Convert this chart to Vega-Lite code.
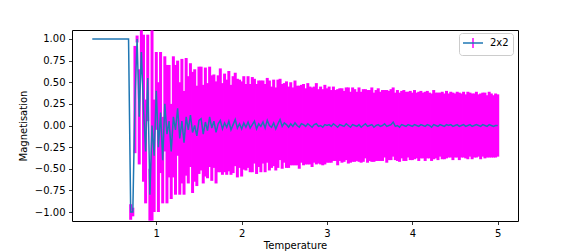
{
  "$schema": "https://vega.github.io/schema/vega-lite/v6.json",
  "width": 446,
  "height": 191,
  "autosize": {"type": "none"},
  "padding": {"left": 72, "top": 30, "right": 58, "bottom": 31},
  "background": "white",
  "config": {
    "view": {"stroke": "black", "strokeWidth": 1},
    "font": "DejaVu Sans",
    "axis": {
      "grid": false, "domain": false, "tickColor": "black", "tickSize": 3.5, "tickWidth": 0.8,
      "labelFont": "DejaVu Sans", "labelFontSize": 10, "labelColor": "black", "labelPadding": 3.5,
      "titleFont": "DejaVu Sans", "titleFontSize": 10, "titleFontWeight": "normal", "titleColor": "black"
    }
  },
  "data": {"values": [
    {"T":0.25,"M":1,"e":0},{"T":0.275,"M":1,"e":0},{"T":0.3,"M":1,"e":0},{"T":0.325,"M":1,"e":0},{"T":0.35,"M":1,"e":0},{"T":0.375,"M":1,"e":0},{"T":0.4,"M":1,"e":0},{"T":0.425,"M":1,"e":0},{"T":0.45,"M":1,"e":0},{"T":0.475,"M":1,"e":0},{"T":0.5,"M":1,"e":0},{"T":0.525,"M":1,"e":0},{"T":0.55,"M":1,"e":0},{"T":0.575,"M":1,"e":0},{"T":0.6,"M":1,"e":0},{"T":0.625,"M":1,"e":0},{"T":0.65,"M":1,"e":0},{"T":0.675,"M":1,"e":0},
    {"T":0.7,"M":-1,"e":0.09},{"T":0.725,"M":-1,"e":0.05},{"T":0.75,"M":0.3,"e":0.62},{"T":0.775,"M":1,"e":0.04},{"T":0.8,"M":0.1,"e":0.55},{"T":0.825,"M":0.85,"e":0.25},{"T":0.85,"M":0.2,"e":0.85},{"T":0.875,"M":-0.3,"e":0.6},{"T":0.9,"M":0.55,"e":0.5},{"T":0.925,"M":-0.8,"e":0.3},{"T":0.95,"M":0,"e":1.1},{"T":0.975,"M":-0.35,"e":0.65},
    {"T":1.0,"M":0.4,"e":0.45},{"T":1.025,"M":-0.25,"e":0.75},{"T":1.05,"M":0.15,"e":0.7},{"T":1.075,"M":-0.4,"e":0.5},{"T":1.1,"M":0.25,"e":0.55},{"T":1.125,"M":-0.1,"e":0.8},{"T":1.15,"M":0.05,"e":0.65},{"T":1.175,"M":-0.3,"e":0.55},{"T":1.2,"M":0.1,"e":0.7},{"T":1.225,"M":-0.05,"e":0.75},{"T":1.25,"M":0.2,"e":0.55},{"T":1.275,"M":-0.15,"e":0.65},{"T":1.3,"M":0.05,"e":0.72},{"T":1.325,"M":-0.2,"e":0.6},{"T":1.35,"M":0.1,"e":0.68},{"T":1.375,"M":-0.05,"e":0.62},{"T":1.4,"M":0.12,"e":0.6},{"T":1.425,"M":-0.08,"e":0.7},{"T":1.45,"M":0,"e":0.65},{"T":1.475,"M":-0.12,"e":0.58},{"T":1.5,"M":0.06,"e":0.62},
    {"T":1.525,"M":0.08,"e":0.6},{"T":1.55,"M":-0.1,"e":0.57},{"T":1.575,"M":0.04,"e":0.63},{"T":1.6,"M":-0.06,"e":0.55},{"T":1.625,"M":0.1,"e":0.58},{"T":1.65,"M":-0.03,"e":0.61},{"T":1.675,"M":0.05,"e":0.54},{"T":1.7,"M":-0.08,"e":0.59},{"T":1.725,"M":0.02,"e":0.56},{"T":1.75,"M":0.06,"e":0.6},{"T":1.775,"M":-0.04,"e":0.53},{"T":1.8,"M":0.03,"e":0.57},{"T":1.825,"M":-0.02,"e":0.55},{"T":1.85,"M":0.05,"e":0.58},{"T":1.875,"M":-0.05,"e":0.52},{"T":1.9,"M":0.01,"e":0.56},{"T":1.925,"M":0.07,"e":0.54},{"T":1.95,"M":-0.03,"e":0.57},{"T":1.975,"M":0.02,"e":0.51},{"T":2.0,"M":-0.04,"e":0.55},
    {"T":2.025,"M":0.03,"e":0.54},{"T":2.05,"M":-0.02,"e":0.5},{"T":2.075,"M":0.04,"e":0.53},{"T":2.1,"M":-0.03,"e":0.51},{"T":2.125,"M":0.01,"e":0.55},{"T":2.15,"M":0.05,"e":0.49},{"T":2.175,"M":-0.04,"e":0.52},{"T":2.2,"M":0.02,"e":0.5},{"T":2.225,"M":-0.01,"e":0.53},{"T":2.25,"M":0.04,"e":0.48},{"T":2.275,"M":-0.03,"e":0.51},{"T":2.3,"M":0.06,"e":0.49},{"T":2.325,"M":0,"e":0.52},{"T":2.35,"M":-0.02,"e":0.47},{"T":2.375,"M":0.03,"e":0.5},{"T":2.4,"M":-0.04,"e":0.48},{"T":2.425,"M":0.02,"e":0.51},{"T":2.45,"M":0.07,"e":0.47},{"T":2.475,"M":-0.01,"e":0.49},{"T":2.5,"M":0.03,"e":0.46},
    {"T":2.525,"M":0.01,"e":0.5},{"T":2.55,"M":-0.02,"e":0.47},{"T":2.575,"M":0.02,"e":0.48},{"T":2.6,"M":-0.01,"e":0.45},{"T":2.625,"M":0.03,"e":0.49},{"T":2.65,"M":0,"e":0.46},{"T":2.675,"M":-0.02,"e":0.48},{"T":2.7,"M":0.02,"e":0.45},{"T":2.725,"M":0.01,"e":0.47},{"T":2.75,"M":-0.01,"e":0.44},{"T":2.775,"M":0.02,"e":0.47},{"T":2.8,"M":0,"e":0.45},{"T":2.825,"M":-0.02,"e":0.46},{"T":2.85,"M":0.01,"e":0.44},{"T":2.875,"M":0.02,"e":0.47},{"T":2.9,"M":-0.01,"e":0.43},{"T":2.925,"M":0,"e":0.45},{"T":2.95,"M":-0.02,"e":0.44},{"T":2.975,"M":0.01,"e":0.46},{"T":3.0,"M":0,"e":0.43},
    {"T":3.025,"M":0.01,"e":0.44},{"T":3.05,"M":-0.01,"e":0.42},{"T":3.075,"M":0.02,"e":0.43},{"T":3.1,"M":0,"e":0.41},{"T":3.125,"M":-0.02,"e":0.44},{"T":3.15,"M":0.01,"e":0.42},{"T":3.175,"M":0,"e":0.43},{"T":3.2,"M":-0.01,"e":0.41},{"T":3.225,"M":0.02,"e":0.42},{"T":3.25,"M":0,"e":0.44},{"T":3.275,"M":-0.02,"e":0.41},{"T":3.3,"M":0.01,"e":0.43},{"T":3.325,"M":0,"e":0.42},{"T":3.35,"M":-0.01,"e":0.4},{"T":3.375,"M":0.01,"e":0.43},{"T":3.4,"M":-0.02,"e":0.41},{"T":3.425,"M":0,"e":0.42},{"T":3.45,"M":0.02,"e":0.4},{"T":3.475,"M":-0.01,"e":0.42},{"T":3.5,"M":0,"e":0.41},
    {"T":3.525,"M":0.01,"e":0.43},{"T":3.55,"M":-0.02,"e":0.4},{"T":3.575,"M":0,"e":0.41},{"T":3.6,"M":0.01,"e":0.42},{"T":3.625,"M":-0.01,"e":0.4},{"T":3.65,"M":0,"e":0.41},{"T":3.675,"M":0.02,"e":0.39},{"T":3.7,"M":-0.01,"e":0.42},{"T":3.725,"M":0,"e":0.4},{"T":3.75,"M":0.01,"e":0.41},{"T":3.775,"M":0.04,"e":0.4},{"T":3.8,"M":-0.01,"e":0.39},{"T":3.825,"M":0,"e":0.41},{"T":3.85,"M":-0.02,"e":0.4},{"T":3.875,"M":0.01,"e":0.39},{"T":3.9,"M":0,"e":0.41},{"T":3.925,"M":-0.01,"e":0.4},{"T":3.95,"M":0.01,"e":0.38},{"T":3.975,"M":0,"e":0.4},{"T":4.0,"M":-0.01,"e":0.39},
    {"T":4.025,"M":0.01,"e":0.4},{"T":4.05,"M":0,"e":0.38},{"T":4.075,"M":-0.01,"e":0.4},{"T":4.1,"M":0.01,"e":0.39},{"T":4.125,"M":0,"e":0.38},{"T":4.15,"M":-0.01,"e":0.4},{"T":4.175,"M":0.01,"e":0.39},{"T":4.2,"M":0,"e":0.38},{"T":4.225,"M":-0.02,"e":0.39},{"T":4.25,"M":0.01,"e":0.4},{"T":4.275,"M":0,"e":0.38},{"T":4.3,"M":-0.01,"e":0.39},{"T":4.325,"M":0.01,"e":0.37},{"T":4.35,"M":0,"e":0.39},{"T":4.375,"M":-0.01,"e":0.38},{"T":4.4,"M":0.01,"e":0.39},{"T":4.425,"M":0,"e":0.37},{"T":4.45,"M":0.01,"e":0.38},{"T":4.475,"M":-0.01,"e":0.39},{"T":4.5,"M":0,"e":0.37},
    {"T":4.525,"M":0.01,"e":0.38},{"T":4.55,"M":-0.01,"e":0.39},{"T":4.575,"M":0,"e":0.37},{"T":4.6,"M":0.01,"e":0.38},{"T":4.625,"M":-0.01,"e":0.37},{"T":4.65,"M":0,"e":0.39},{"T":4.675,"M":0.01,"e":0.37},{"T":4.7,"M":-0.01,"e":0.38},{"T":4.725,"M":0,"e":0.37},{"T":4.75,"M":0.01,"e":0.38},{"T":4.775,"M":0,"e":0.36},{"T":4.8,"M":-0.01,"e":0.38},{"T":4.825,"M":0.01,"e":0.37},{"T":4.85,"M":0,"e":0.38},{"T":4.875,"M":-0.01,"e":0.36},{"T":4.9,"M":0.01,"e":0.38},{"T":4.925,"M":0,"e":0.37},{"T":4.95,"M":-0.01,"e":0.36},{"T":4.975,"M":0,"e":0.37},{"T":5.0,"M":0,"e":0.36}
  ]},
  "encoding": {
    "x": {"field": "T", "type": "quantitative", "title": "Temperature",
      "scale": {"domain": [0.0125, 5.2375], "nice": false, "zero": false},
      "axis": {"values": [1, 2, 3, 4, 5], "format": "d", "titlePadding": 2}},
    "y": {"field": "M", "type": "quantitative", "title": "Magnetisation",
      "scale": {"domain": [-1.104, 1.104], "nice": false, "zero": false},
      "axis": {"values": [-1, -0.75, -0.5, -0.25, 0, 0.25, 0.5, 0.75, 1],
        "labelExpr": "replace(format(datum.value, '.2f'), '-', '\u2212')", "titlePadding": 6}}
  },
  "layer": [
    {
      "mark": {"type": "errorbar", "clip": true, "thickness": 3},
      "encoding": {
        "yError": {"field": "e"},
        "color": {"datum": "2x2 ", "scale": {"range": ["#ff00ff"]},
          "legend": {"title": null, "orient": "none", "legendX": 387, "legendY": 3,
            "padding": 4, "symbolType": "M0,-1L0,1", "symbolSize": 100, "symbolStrokeWidth": 1.5,
            "symbolOffset": 4, "labelOffset": 11, "labelFontSize": 10, "labelFont": "DejaVu Sans",
            "labelOpacity": 0, "labelColor": "black",
            "fillColor": "white", "strokeColor": "#cccccc", "cornerRadius": 3}}
      }
    },
    {
      "mark": {"type": "line", "strokeWidth": 1.5, "clip": true},
      "encoding": {
        "stroke": {"datum": "2x2", "scale": {"range": ["#1f77b4"]},
          "legend": {"title": null, "orient": "none", "legendX": 387, "legendY": 3,
            "padding": 4, "symbolType": "M-2,0L2,0", "symbolSize": 100, "symbolStrokeWidth": 1.5,
            "symbolOffset": 4, "labelOffset": 11, "labelFontSize": 10, "labelFont": "DejaVu Sans",
            "labelColor": "black"}}
      }
    }
  ],
  "resolve": {"legend": {"color": "independent", "stroke": "independent"}}
}
